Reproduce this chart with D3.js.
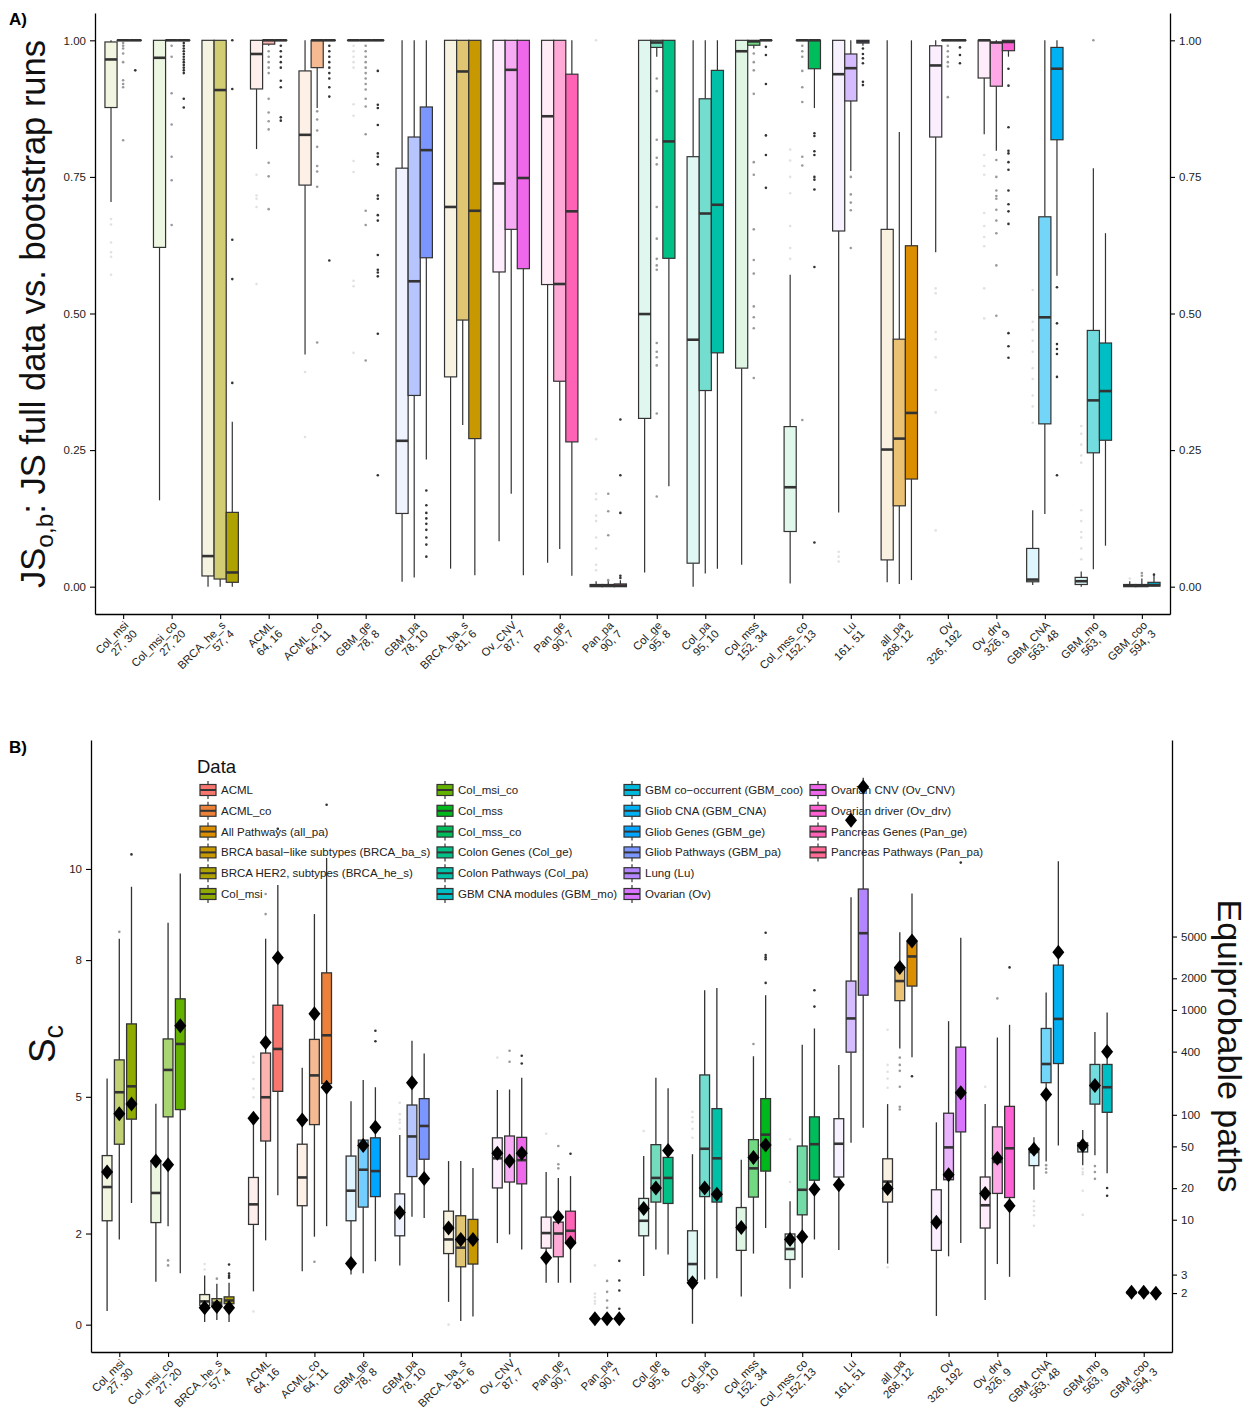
<!DOCTYPE html>
<html>
<head>
<meta charset="utf-8">
<script src="https://cdn.jsdelivr.net/npm/d3@7"></script>
<style>
  body { margin: 0; background: #fff; }
  svg { display: block; font-family: "Liberation Sans", Arial, Helvetica, sans-serif; }
</style>
</head>
<body>
<svg id="chart" width="1250" height="1414"></svg>
<script>
// categories along the x axis (both panels)
const categories = ["Col_msi","Col_msi_co","BRCA_he_s","ACML","ACML_co","GBM_ge","GBM_pa","BRCA_ba_s","Ov_CNV","Pan_ge","Pan_pa",
  "Col_ge","Col_pa","Col_mss","Col_mss_co","Lu","all_pa","Ov","Ov_drv","GBM_CNA","GBM_mo","GBM_coo"];
const sizes = ["27, 30","27, 20","57, 4","64, 16","64, 11","78, 8","78, 10","81, 6","87, 7","90, 7","90, 7",
  "95, 8","95, 10","152, 34","152, 13","161, 51","268, 12","326, 192","326, 9","563, 48","563, 9","594, 3"];

// legend order = colour order
const legendKeys = ["ACML","ACML_co","all_pa","BRCA_ba_s","BRCA_he_s","Col_msi","Col_msi_co","Col_mss","Col_mss_co","Col_ge","Col_pa",
  "GBM_mo","GBM_coo","GBM_CNA","GBM_ge","GBM_pa","Lu","Ov","Ov_CNV","Ov_drv","Pan_ge","Pan_pa"];
const legendLabels = ["ACML","ACML_co","All Pathways (all_pa)","BRCA basal\u2212like subtypes (BRCA_ba_s)","BRCA HER2, subtypes (BRCA_he_s)",
  "Col_msi","Col_msi_co","Col_mss","Col_mss_co","Colon Genes (Col_ge)","Colon Pathways (Col_pa)","GBM CNA modules (GBM_mo)",
  "GBM co\u2212occurrent (GBM_coo)","Gliob CNA (GBM_CNA)","Gliob Genes (GBM_ge)","Gliob Pathways (GBM_pa)","Lung (Lu)","Ovarian (Ov)",
  "Ovarian CNV (Ov_CNV)","Ovarian driver (Ov_drv)","Pancreas Genes (Pan_ge)","Pancreas Pathways (Pan_pa)"];

// panel A: [low whisker, q1, median, q3, high whisker] for the three boxes of each category
const jsBoxes = [
  [[0.704,0.877,0.965,0.997,1],[1,1,1,1,1],[1,1,1,1,1]],
  [[0.158,0.621,0.968,1,1],[1,1,1,1,1],[1,1,1,1,1]],
  [[0,0.0196,0.056,1,1],[0,0.014,0.909,1,1],[0,0.008,0.026,0.136,0.302]],
  [[0.801,0.911,0.975,1,1],[0.99,0.993,1,1,1],[1,1,1,1,1]],
  [[0.425,0.735,0.827,0.944,1],[0.876,0.95,1,1,1],[1,1,1,1,1]],
  [[1,1,1,1,1],[1,1,1,1,1],[1,1,1,1,1]],
  [[0.009,0.134,0.267,0.766,1],[0.017,0.35,0.559,0.823,1],[0.233,0.602,0.799,0.878,1]],
  [[0.033,0.384,0.695,1,1],[0.296,0.488,0.943,1,1],[0.021,0.271,0.688,1,1]],
  [[0.083,0.576,0.738,1,1],[0.17,0.654,0.946,1,1],[0.021,0.582,0.748,1,1]],
  [[0.044,0.553,0.861,1,1],[0.069,0.376,0.554,1,1],[0.02,0.265,0.687,0.938,1]],
  [[0,0,0.002,0.004,0.01],[0,0,0.002,0.004,0.01],[0,0,0.002,0.005,0.012]],
  [[0.026,0.308,0.499,1,1],[0.97,0.987,0.996,1,1],[0.184,0.601,0.815,1,1]],
  [[0,0.043,0.452,0.787,1],[0.024,0.359,0.683,0.893,1],[0.033,0.428,0.699,0.945,1]],
  [[0.04,0.4,0.98,1,1],[0.985,0.991,0.998,1,1],[1,1,1,1,1]],
  [[0.006,0.101,0.182,0.293,0.571],[1,1,1,1,1],[0.876,0.948,1,1,1]],
  [[0.136,0.651,0.938,1,1],[0.761,0.889,0.949,0.975,1],[0.99,0.995,0.998,1,1]],
  [[0.008,0.049,0.251,0.654,1],[0.005,0.148,0.271,0.453,0.832],[0.012,0.197,0.318,0.624,1]],
  [[0.612,0.823,0.954,0.99,1],[1,1,1,1,1],[1,1,1,1,1]],
  [[0.828,0.931,1,1,1],[0.798,0.916,0.996,0.996,1],[0.97,0.981,0.997,1,1]],
  [[0.003,0.009,0.013,0.07,0.14],[0.133,0.298,0.493,0.677,1],[0.569,0.818,0.948,0.987,1]],
  [[0,0.004,0.01,0.017,0.028],[0.032,0.245,0.341,0.469,0.766],[0.075,0.268,0.358,0.446,0.647]],
  [[0,0,0.002,0.004,0.01],[0,0,0.002,0.004,0.015],[0,0.001,0.003,0.008,0.02]]
];
const jsOutliers = [
  [[0.673,0.663,0.63,0.612,0.604,0.571],[0.995,0.99,0.985,0.976,0.96,0.927,0.92,0.914,0.817],[0.945]],
  [[],[0.99,0.97,0.903,0.846,0.787,0.744,0.662],[0.995,0.99,0.985,0.98,0.975,0.97,0.965,0.96,0.955,0.95,0.945,0.94,0.893,0.877]],
  [[],[],[1,0.911,0.635,0.563,0.373]],
  [[0.754,0.716,0.71,0.695,0.554],[0.98,0.97,0.96,0.95,0.94,0.893,0.868,0.852,0.837,0.776,0.751,0.691],[0.99,0.98,0.97,0.96,0.95,0.926,0.914,0.859,0.853]],
  [[0.393,0.274],[0.87,0.855,0.835,0.805,0.77,0.76,0.732,0.447],[0.99,0.98,0.97,0.96,0.95,0.94,0.93,0.914,0.897,0.597]],
  [[0.99,0.98,0.97,0.96,0.95,0.883,0.862,0.779,0.759,0.56,0.55,0.428],[0.99,0.98,0.97,0.96,0.95,0.94,0.93,0.92,0.91,0.893,0.879,0.828,0.688,0.662,0.414],
   [0.944,0.882,0.876,0.845,0.793,0.787,0.773,0.716,0.71,0.68,0.67,0.607,0.58,0.575,0.568,0.463,0.204]],
  [[],[],[0.176,0.149,0.135,0.125,0.115,0.104,0.09,0.077,0.055]],
  [[],[],[]],
  [[],[],[]],
  [[],[],[]],
  [[1,0.27,0.17,0.16,0.13,0.12,0.09,0.07,0.04,0.03],[0.17,0.138,0.094,0.012],[0.306,0.204,0.135,0.02,0.016]],
  [[],[0.93,0.907,0.818,0.785,0.773,0.695,0.637,0.6,0.588,0.58,0.446,0.43,0.42,0.405,0.317,0.165],[]],
  [[],[],[]],
  [[],[0.976,0.96,0.945,0.902,0.777,0.754,0.654,0.598,0.573,0.513,0.493,0.473,0.382],[0.988,0.973,0.92,0.826,0.79,0.73]],
  [[0.8,0.78,0.75,0.72,0.66,0.62,0.6],[0.99,0.98,0.97,0.944,0.914,0.887,0.787,0.771,0.305],[0.83,0.825,0.797,0.79,0.75,0.745,0.727,0.585,0.081]],
  [[0.064,0.055,0.046],[0.75,0.718,0.703,0.689,0.62],[0.985,0.975,0.967,0.958,0.924,0.918]],
  [[],[],[]],
  [[0.546,0.537,0.466,0.453,0.42,0.36,0.319,0.103],[0.99,0.98,0.97,0.96,0.952,0.896],[0.987,0.973,0.958]],
  [[0.79,0.77,0.754,0.684,0.66,0.64,0.623,0.546,0.491],[0.781,0.75,0.725,0.715,0.71,0.69,0.67,0.647,0.588,0.496],
   [0.948,0.917,0.841,0.798,0.793,0.777,0.763,0.725,0.7,0.687,0.664,0.464,0.44,0.419]],
  [[0.543,0.485,0.47,0.45,0.43,0.4,0.38,0.35,0.33,0.3],[],[0.548,0.482,0.444,0.435,0.426,0.384,0.204]],
  [[0.294,0.28,0.26,0.24,0.227,0.14,0.12,0.1,0.09,0.07,0.05],[1],[]],
  [[0.015],[0.025,0.02],[0.022]]
];

// panel B: [low whisker, q1, median, q3, high whisker] of S_c
const scBoxes = [
  [[0.30,2.28,3.02,3.71,5.40],[1.87,3.96,5.10,5.81,8.47],[2.67,4.51,5.23,6.60,9.61]],
  [[0.94,2.24,2.89,3.58,4.85],[2.16,4.56,5.59,6.27,8.82],[1.13,4.72,6.16,7.15,9.90]],
  [[0.06,0.42,0.51,0.66,1.08],[0.10,0.42,0.48,0.57,0.90],[0.06,0.46,0.53,0.61,0.92]],
  [[0.73,2.20,2.64,3.23,4.53],[1.85,4.03,4.99,5.96,8.47],[2.84,5.12,6.05,7.01,9.65]],
  [[1.17,2.61,3.23,3.96,5.64],[1.93,4.39,5.47,6.26,9.01],[2.16,5.29,6.35,7.72,10.24]],
  [[1.10,2.28,2.94,3.70,4.90],[1.13,2.58,3.40,4.05,5.37],[1.39,2.81,3.37,4.10,5.21]],
  [[1.30,1.95,2.46,2.87,4.16],[2.37,3.25,4.13,4.82,6.23],[2.34,3.63,4.36,4.96,5.95]],
  [[0.50,1.56,1.87,2.49,3.59],[0.08,1.27,1.69,2.39,3.59],[0.18,1.33,1.87,2.31,3.44]],
  [[1.79,3.00,3.65,4.10,5.15],[1.98,3.13,3.59,4.14,5.16],[1.65,3.09,3.61,4.11,5.42]],
  [[0.92,1.68,2.01,2.36,3.35],[0.92,1.49,2.00,2.25,3.22],[0.92,1.78,2.06,2.49,3.26]],
  [[0.13,0.13,0.13,0.13,0.13],[0.13,0.13,0.13,0.13,0.13],[0.13,0.13,0.13,0.13,0.13]],
  [[1.07,1.95,2.28,2.77,3.70],[1.65,2.69,3.22,3.95,5.42],[1.54,2.66,3.22,3.67,5.19]],
  [[0.02,0.97,1.33,2.06,3.74],[0.99,2.81,3.86,5.48,7.34],[1.02,2.69,3.65,4.74,7.39]],
  [[0.62,1.63,2.13,2.57,3.62],[1.56,2.80,3.43,4.06,5.89],[2.12,3.37,4.17,4.96,7.23]],
  [[0.79,1.43,1.66,1.99,2.71],[1.03,2.41,2.96,3.92,6.14],[1.87,3.17,3.96,4.56,6.50]],
  [[1.64,3.24,3.97,4.52,5.70],[3.99,5.98,6.72,7.54,9.38],[4.32,7.23,8.59,9.56,12.0]],
  [[1.34,2.69,3.14,3.64,4.84],[6.06,7.11,7.54,7.83,8.61],[5.87,7.43,8.08,8.40,9.46]],
  [[0.19,1.63,2.25,2.96,4.44],[1.50,3.18,3.89,4.64,6.66],[1.79,4.23,5.09,6.09,8.49]],
  [[0.54,2.12,2.62,3.24,4.84],[1.33,2.88,3.57,4.34,6.30],[1.05,2.79,3.87,4.79,6.58]],
  [[2.96,3.49,3.79,3.87,4.11],[3.58,5.31,5.72,6.50,7.29],[3.93,5.73,6.71,7.89,10.17]],
  [[3.50,3.79,3.93,3.99,4.27],[3.72,4.84,5.25,5.71,6.42],[3.32,4.66,5.21,5.71,6.85]],
  [[0.69,0.69,0.69,0.69,0.69],[0.69,0.69,0.69,0.69,0.75],[0.69,0.69,0.69,0.69,0.69]]
];
const scOutliers = [
  [[],[8.62],[10.32]],
  [[],[1.41,1.30],[]],
  [[1.33,1.21],[1.01],[1.32,1.12,1.07,1.03]],
  [[5.88,5.75,5.39,5.18,4.99,0.29],[9.01,9.45],[10.88]],
  [[],[1.38],[11.41]],
  [[],[],[6.45,6.22]],
  [[4.87,4.62,4.5,4.43,4.3],[],[]],
  [[0.0],[],[]],
  [[5.86],[6.01,5.77],[5.90,5.73]],
  [[4.19],[3.92,3.52,3.43],[3.75]],
  [[1.30,0.68,0.6,0.52,0.46],[0.96,0.72,0.53,0.37],[1.40,0.97,0.75,0.35]],
  [[4.25],[],[]],
  [[4.67,4.55,4.45,4.3,4.1],[],[]],
  [[],[6.16],[8.60,8.11,8.06,8.02,7.50]],
  [[4.07,3.13],[],[7.34,6.98]],
  [[],[],[]],
  [[6.47,5.7,5.55,5.4,5.2,1.26],[5.86,5.7,5.57,5.22,4.78,4.72],[5.45]],
  [[],[],[10.14]],
  [[5.22],[7.16],[7.84]],
  [[2.71,2.6,2.5,2.4,2.17],[3.50,3.42,3.34],[]],
  [[3.42,3.35,3.3,2.94,2.41],[3.48,3.35,3.2],[3.0,2.83]],
  [[],[],[]]
];
// observed S_c on the full data (black diamonds)
const scObserved = [
  [3.35,4.63,4.84],[3.59,3.51,6.56],[0.37,0.40,0.37],[4.53,6.19,8.05],[4.49,6.82,5.21],[1.34,3.93,4.33],
  [2.46,5.31,3.21],[2.12,1.87,1.87],[3.76,3.59,3.76],[1.47,2.36,1.80],[0.13,0.13,0.13],[2.55,3.00,3.82],
  [0.92,3.00,2.86],[2.13,3.67,3.94],[1.87,1.93,2.97],[3.07,11.07,11.8],[2.99,7.84,8.42],[2.25,3.29,5.09],
  [2.88,3.65,2.61],[3.85,5.05,8.17],[3.93,5.25,5.99],[0.71,0.71,0.69]
];

const jsTicks = [0, 0.25, 0.5, 0.75, 1];
const scTicks = [0, 2, 5, 8, 10];
const pathTicks = [2, 3, 10, 20, 50, 100, 400, 1000, 2000, 5000];

// ggplot-like hue palette (polar LUV, l = 65, c = 100)
function hueColor(h) {
  const L = 65, C = 100, hr = h * Math.PI / 180;
  const Xn = 95.047, Yn = 100, Zn = 108.883;
  const den = Xn + 15 * Yn + 3 * Zn;
  const un = 4 * Xn / den, vn = 9 * Yn / den;
  const Y = Yn * Math.pow((L + 16) / 116, 3);
  const u = C * Math.cos(hr) / (13 * L) + un, v = C * Math.sin(hr) / (13 * L) + vn;
  const X = 9 * Y * u / (4 * v), Z = Y * (12 - 3 * u - 20 * v) / (4 * v);
  const x = X / 100, y = Y / 100, z = Z / 100;
  const lin = [3.240479 * x - 1.53715 * y - 0.498535 * z,
               -0.969256 * x + 1.875992 * y + 0.041556 * z,
               0.055648 * x - 0.204043 * y + 1.057311 * z];
  const c = lin.map(t => {
    t = t <= 0.0031308 ? 12.92 * t : 1.055 * Math.pow(t, 1 / 2.4) - 0.055;
    return Math.round(255 * Math.max(0, Math.min(1, t)));
  });
  return d3.rgb(c[0], c[1], c[2]).formatHex();
}
const palette = legendKeys.map((k, i) => hueColor(15 + 360 * i / legendKeys.length));
const colorOf = cat => palette[legendKeys.indexOf(cat)];
const fillAlpha = [0.12, 0.55, 1];
const outAlpha = [0.15, 0.5, 1];
const ink = "#333333";

const svg = d3.select("#chart");

function drawBoxes(g, xs, ys, boxes, outliers, boxW, dodge, sw) {
  categories.forEach((cat, i) => {
    boxes[i].forEach((s, j) => {
      const cx = xs(cat) + (j - 1) * dodge;
      const [lo, q1, med, q3, hi] = s;
      const fill = d3.interpolateRgb("#ffffff", colorOf(cat))(fillAlpha[j]);
      const b = g.append("g");
      b.append("line").attr("x1", cx).attr("x2", cx).attr("y1", ys(hi)).attr("y2", ys(q3))
        .attr("stroke", ink).attr("stroke-width", sw);
      b.append("line").attr("x1", cx).attr("x2", cx).attr("y1", ys(q1)).attr("y2", ys(lo))
        .attr("stroke", ink).attr("stroke-width", sw);
      b.append("rect").attr("x", cx - boxW / 2).attr("y", ys(q3))
        .attr("width", boxW).attr("height", Math.max(0.01, ys(q1) - ys(q3)))
        .attr("fill", fill).attr("stroke", ink).attr("stroke-width", sw);
      b.append("line").attr("x1", cx - boxW / 2).attr("x2", cx + boxW / 2)
        .attr("y1", ys(med)).attr("y2", ys(med)).attr("stroke", ink).attr("stroke-width", 2.6);
      b.selectAll("circle").data(outliers[i][j]).enter().append("circle")
        .attr("cx", cx).attr("cy", d => ys(d)).attr("r", 1.3)
        .attr("fill", ink).attr("fill-opacity", outAlpha[j]);
    });
  });
}

function styleAxis(g) {
  g.selectAll(".domain").attr("stroke", "#000").attr("stroke-width", 1.3);
  g.selectAll(".tick line").attr("stroke", "#000").attr("stroke-width", 1.1);
  g.selectAll(".tick text").attr("fill", "#222").style("font-size", "11.5px");
}

function xLabels(g, xs, y0) {
  categories.forEach((cat, i) => {
    const t = g.append("g").attr("transform", `translate(${xs(cat)},${y0}) rotate(-45)`)
      .attr("text-anchor", "end").style("font-size", "11.3px").attr("fill", "#222");
    t.append("text").attr("x", 0).attr("y", 8.5).text(cat);
    t.append("text").attr("x", 0).attr("y", 20.5).text(sizes[i]);
  });
}

//
// PANEL A
//
const xA = d3.scalePoint().domain(categories).range([95, 1170]).padding(0.58);
const yA = d3.scaleLinear().domain([-0.05, 1.05]).range([614, 13]);
const stepA = xA.step();

svg.append("text").attr("x", 9).attr("y", 25).style("font-size", "17px").style("font-weight", "bold").text("A)");

const gA = svg.append("g");
drawBoxes(gA, xA, yA, jsBoxes, jsOutliers, stepA * 0.25, stepA * 0.25, 1.2);

svg.append("g").attr("transform", "translate(95,0)")
  .call(d3.axisLeft(yA).tickValues(jsTicks).tickFormat(d3.format(".2f")).tickSize(5).tickSizeOuter(0).tickPadding(4))
  .call(styleAxis);
svg.append("g").attr("transform", "translate(1170,0)")
  .call(d3.axisRight(yA).tickValues(jsTicks).tickFormat(d3.format(".2f")).tickSize(5).tickSizeOuter(0).tickPadding(4))
  .call(styleAxis);
svg.append("g").attr("transform", "translate(0,614)")
  .call(d3.axisBottom(xA).tickFormat("").tickSize(5).tickSizeOuter(0))
  .call(styleAxis);
xLabels(svg.append("g"), xA, 620);

const titleA = svg.append("text").attr("transform", "translate(45,314) rotate(-90)")
  .attr("text-anchor", "middle").style("font-size", "34.5px").attr("fill", "#111");
titleA.append("tspan").text("JS");
titleA.append("tspan").attr("dy", 8).style("font-size", "24.5px").text("o,b");
titleA.append("tspan").attr("dy", -8).text(": JS full data vs. bootstrap runs");

//
// PANEL B
//
const xB = d3.scalePoint().domain(categories).range([91, 1172]).padding(0.58);
const yB = d3.scaleLinear().domain([-0.6, 12.83]).range([1352, 740]);
const stepB = xB.step();

svg.append("text").attr("x", 9).attr("y", 753).style("font-size", "17px").style("font-weight", "bold").text("B)");

// legend sits under the data
const leg = svg.append("g");
leg.append("text").attr("x", 197).attr("y", 773).style("font-size", "18.5px").attr("fill", "#111").text("Data");
const colX = [200, 437, 624, 810];
legendLabels.forEach((lab, i) => {
  const col = Math.floor(i / 6), row = i % 6;
  const x0 = colX[col], yc = 790 + row * 20.8;
  const k = leg.append("g");
  k.append("line").attr("x1", x0 + 8).attr("x2", x0 + 8).attr("y1", yc - 9).attr("y2", yc + 9)
    .attr("stroke", ink).attr("stroke-width", 1.2);
  k.append("rect").attr("x", x0).attr("y", yc - 5.5).attr("width", 16).attr("height", 11)
    .attr("fill", palette[i]).attr("stroke", ink).attr("stroke-width", 1.2);
  k.append("line").attr("x1", x0).attr("x2", x0 + 16).attr("y1", yc).attr("y2", yc)
    .attr("stroke", ink).attr("stroke-width", 2);
  leg.append("text").attr("x", x0 + 21).attr("y", yc + 4).style("font-size", "11.5px").attr("fill", "#222").text(lab);
});

const gB = svg.append("g");
drawBoxes(gB, xB, yB, scBoxes, scOutliers, stepB * 0.2, stepB * 0.25, 1.3);

// observed values
categories.forEach((cat, i) => {
  scObserved[i].forEach((v, j) => {
    const cx = xB(cat) + (j - 1) * stepB * 0.25;
    gB.append("path").attr("d", "M0,-7.5L6,0L0,7.5L-6,0Z")
      .attr("transform", `translate(${cx},${yB(v)})`).attr("fill", "#000");
  });
});

svg.append("g").attr("transform", "translate(91,0)")
  .call(d3.axisLeft(yB).tickValues(scTicks).tickSize(5).tickSizeOuter(0).tickPadding(4))
  .call(styleAxis);
svg.append("g").attr("transform", "translate(1172,0)")
  .call(d3.axisRight(yB).tickValues(pathTicks.map(Math.log)).tickFormat((d, i) => pathTicks[i])
    .tickSize(5).tickSizeOuter(0).tickPadding(4))
  .call(styleAxis);
svg.append("g").attr("transform", "translate(0,1352)")
  .call(d3.axisBottom(xB).tickFormat("").tickSize(5).tickSizeOuter(0))
  .call(styleAxis);
xLabels(svg.append("g"), xB, 1358);

const titleB = svg.append("text").attr("transform", "translate(55,1044) rotate(-90)")
  .attr("text-anchor", "middle").style("font-size", "37px").attr("fill", "#111");
titleB.append("tspan").text("S");
titleB.append("tspan").attr("dy", 8).style("font-size", "27px").text("c");

svg.append("text").attr("transform", "translate(1218,1046) rotate(90)")
  .attr("text-anchor", "middle").style("font-size", "34px").attr("fill", "#111").text("Equiprobable paths");
</script>
</body>
</html>
